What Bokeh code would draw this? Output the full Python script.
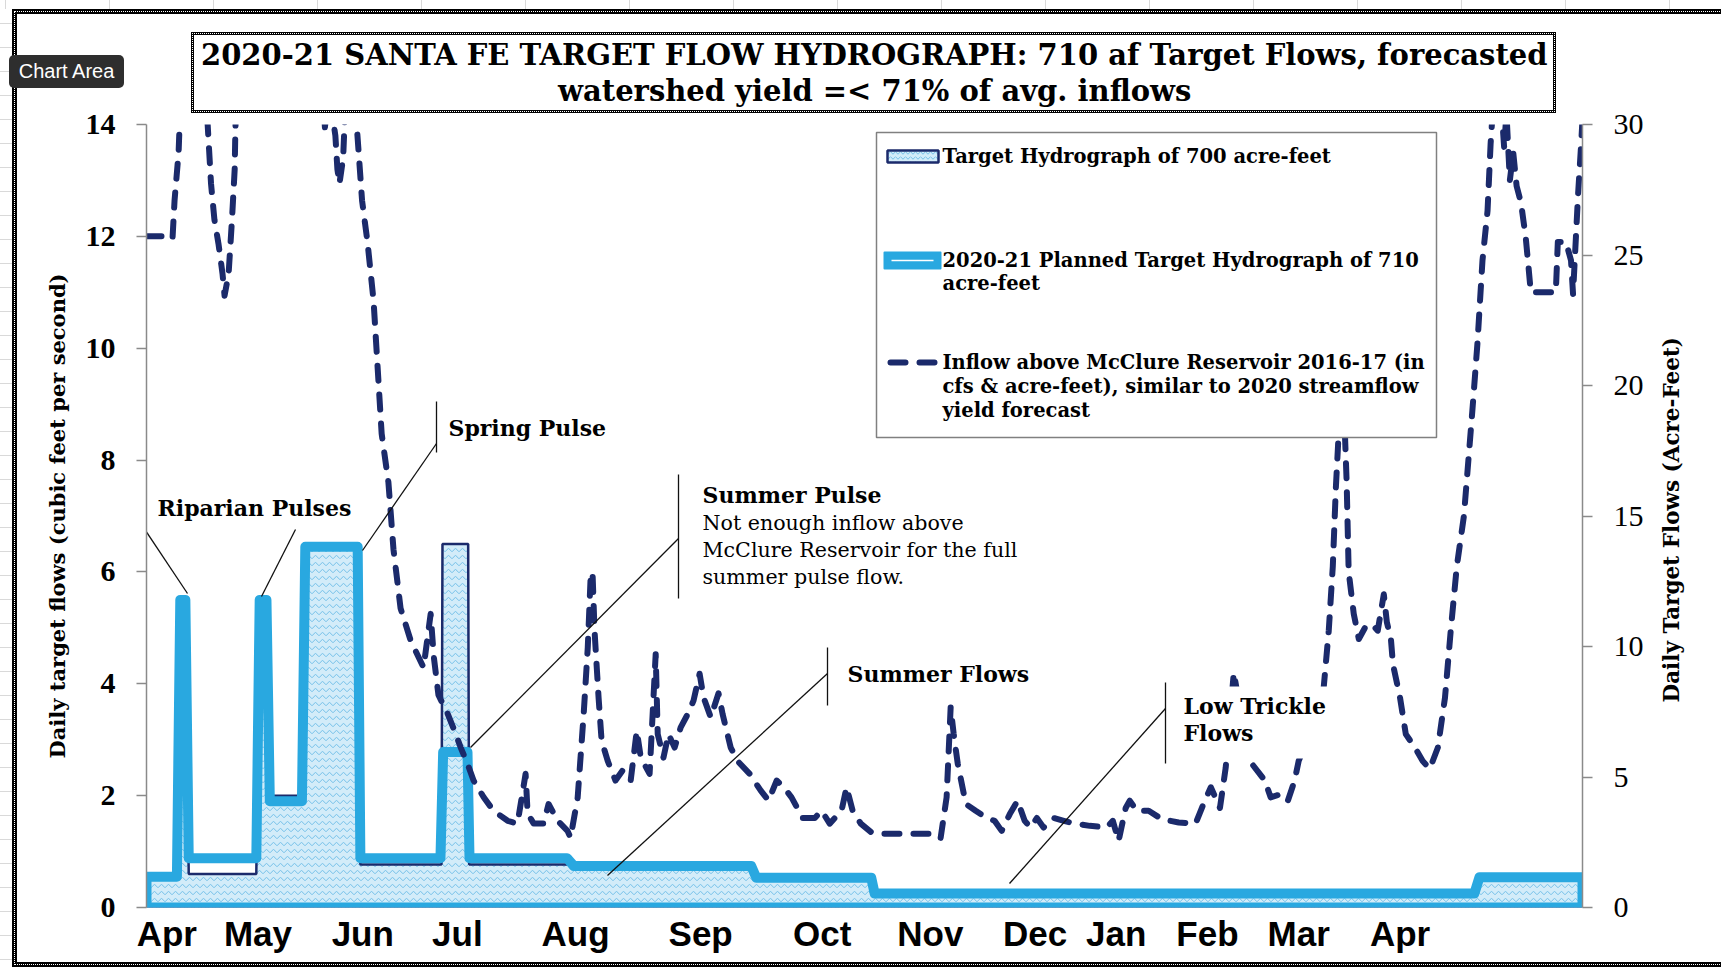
import math
from bokeh.plotting import figure
from bokeh.layouts import column
from bokeh.models import Range1d, LinearAxis, FixedTicker, InlineStyleSheet, Title
from bokeh.core.properties import value
from bokeh.embed import file_html
from bokeh.resources import INLINE

# ---------------- data ----------------
title_lines = ["2020-21 SANTA FE TARGET FLOW HYDROGRAPH: 710 af Target Flows, forecasted",
               "watershed yield =< 71% of avg. inflows"]
month_labels = ["Apr", "May", "Jun", "Jul", "Aug", "Sep", "Oct", "Nov", "Dec", "Jan", "Feb", "Mar", "Apr"]
month_ticks = [6, 33, 64, 92, 127, 164, 200, 232, 263, 287, 314, 341, 371]
cfs_ticks = [0, 2, 4, 6, 8, 10, 12, 14]
af_ticks = [0, 5, 10, 15, 20, 25, 30]

# 2020-21 planned target hydrograph (cfs), day index from Apr 1
planned_day = [0, 9, 10, 11.5, 12.5, 32.5, 33.5, 35.5, 36.5, 46, 47, 62.5, 63.3, 87, 87.8, 95, 95.6,
               124.5, 126.5, 179, 180.5, 214.5, 215.5, 393, 394.5, 425]
planned_cfs = [0.55, 0.55, 5.5, 5.5, 0.88, 0.88, 5.5, 5.5, 1.9, 1.9, 6.45, 6.45, 0.88, 0.88, 2.78, 2.78, 0.88,
               0.88, 0.74, 0.74, 0.53, 0.53, 0.25, 0.25, 0.54, 0.54]

# target hydrograph of 700 acre-feet (cfs)
target_day = [0, 9, 10, 11.5, 12.5, 32.5, 33.5, 35.5, 36.5, 46, 47, 62.5, 63.3, 87.3, 87.6, 95.2, 95.5,
              124.5, 126.5, 179, 180.5, 214.5, 215.5, 393, 394.5, 425]
target_cfs = [0.5, 0.5, 5.5, 5.5, 0.6, 0.6, 5.5, 5.5, 2.0, 2.0, 6.5, 6.5, 0.77, 0.77, 6.5, 6.5, 0.77,
              0.77, 0.72, 0.72, 0.5, 0.5, 0.24, 0.24, 0.5, 0.5]

# inflow above McClure Reservoir 2016-17 (cfs)
inflow_day = [0, 7.0, 7.7, 8.3, 9.5, 11, 13, 15, 17, 18.1, 19.1, 20.1, 21.3, 22.5, 23.1, 24.3, 25.3, 26.1, 26.3,
              28, 32, 36, 40, 44, 48, 51, 52.8, 54, 55.9, 56.5, 57.1, 58.2, 58.6, 60, 61.2, 62.2, 63.8, 65.4,
              67.2, 68.4, 69.6, 71.6, 73.1, 75.2, 78.2, 82, 84.1, 85, 86.4, 89.1, 90.9, 93, 95, 96.8, 99.8,
              102.7, 106.9, 109.8, 112.2, 112.8, 114.6, 117.5, 119, 121.7, 124.6, 125.5, 127.6, 129.4, 130.6,
              131.4, 132, 132.6, 133.8, 134.7, 136.5, 138.8, 140.9, 143.3, 145.1, 146.3, 148.9, 150.7, 151.3,
              153, 154.5, 156.3, 158.1, 160.2, 161.9, 163.7, 164.9, 167, 169.3, 170.5, 172.9, 174.9, 178.5,
              181.8, 184.1, 186.5, 188.6, 190.9, 194.2, 197.8, 199.8, 202.2, 205.7, 207.2, 209, 211.4, 214.6,
              218.2, 225, 231.8, 235, 236.8, 238, 238.9, 240.1, 242.5, 245.4, 248.7, 251, 253.1, 255.5, 257.8,
              259.9, 261.7, 263.5, 265.5, 268.5, 271.5, 274.7, 279.2, 284.2, 286, 287.7, 289.8, 291, 293.1,
              296.6, 300.5, 305.5, 310.5, 313.2, 315, 317.7, 319.4, 321.8, 323.5, 326.5, 331, 332.7, 336,
              337.8, 339.8, 341, 345, 348.4, 349.9, 351.1, 352, 352.6, 353.9, 355.2, 355.8, 357.3, 358.8,
              360.6, 362.6, 364.4, 366.2, 367.1, 368.3, 368.9, 371, 372.7, 375.4, 377.7, 379.8, 382.2, 384.3,
              386, 387.8, 389.9, 392.4, 393.9, 395.4, 396.9, 397.8, 398.5, 400, 401.8, 402.5, 403.5, 404.5,
              405.5, 406.8, 408.2, 409.1, 409.7, 413.6, 417.1, 417.7, 420.1, 421.6, 422.2, 423.7, 424.6, 425]
inflow_cfs = [12.0, 12.0, 11.96, 12.64, 13.5, 16, 19, 17, 15, 14.0, 12.94, 12.3, 11.87, 11.33, 10.94, 11.33, 12.3,
              13.2, 13.9, 17, 21, 24, 22, 25, 20, 16, 13.95, 14.6, 13.8, 13.2, 12.94, 13.4, 14.0, 16, 15, 14.0,
              12.64, 11.9, 10.85, 9.66, 8.47, 7.6, 6.4, 5.35, 4.77, 4.29, 5.25, 4.5, 3.8, 3.47, 3.2, 2.86, 2.57,
              2.27, 1.97, 1.73, 1.55, 1.5, 2.39, 1.68, 1.5, 1.5, 1.85, 1.55, 1.37, 1.25, 1.96, 3.47, 4.65, 5.84,
              6.0, 4.95, 3.75, 2.98, 2.62, 2.27, 2.45, 2.27, 3.16, 2.68, 2.39, 4.53, 3.1, 2.68, 3.1, 2.86, 3.22,
              3.46, 3.7, 4.18, 3.75, 3.4, 3.83, 3.46, 2.86, 2.62, 2.39, 2.09, 1.91, 2.27, 2.15, 1.97, 1.6, 1.6,
              1.73, 1.5, 1.73, 2.15, 1.73, 1.5, 1.34, 1.32, 1.32, 1.32, 1.23, 1.97, 3.58, 3.1, 2.57, 1.85, 1.73,
              1.6, 1.55, 1.37, 1.67, 1.91, 1.55, 1.43, 1.6, 1.43, 1.6, 1.55, 1.5, 1.46, 1.43, 1.55, 1.19, 1.78,
              1.91, 1.73, 1.73, 1.58, 1.52, 1.5, 1.91, 2.15, 1.78, 2.5, 4.2, 3.6, 2.62, 2.27, 1.97, 2.03, 1.91,
              2.27, 2.62, 3.2, 3.93, 4.95, 6.1, 7.5, 8.2, 9.8, 7.6, 6.0, 5.25, 4.8, 5.0, 5.07, 4.95, 5.6, 5.1,
              4.8, 4.35, 3.75, 3.1, 2.86, 2.62, 2.48, 2.86, 3.75, 4.95, 6.1, 7.0, 8.88, 10.08, 11.57, 12.46,
              13.65, 14.3, 15.2, 13.6, 14.2, 13.0, 13.5, 12.9, 12.6, 11.98, 11.4, 11.0, 11.0, 11.0, 11.9, 11.9,
              11.57, 10.97, 12.76, 13.65, 14.1]

# ---------------- layout helpers (page pixels -> data) ----------------
W, H = 1721, 969
FL, FR, FT, FB = 146, 1582, 124, 907
XMAX, YMAX, AFMAX = 425, 14, 30


def dx(px):
    return (px - FL) * XMAX / (FR - FL)


def dy(py):
    return (FB - py) * YMAX / (FB - FT)


NAVY = "#1B2A6B"
LBLUE = "#29A8E0"
SERIF = "DejaVu Serif"

p = figure(width=W, height=H, x_range=Range1d(0, XMAX), y_range=Range1d(0, YMAX),
           output_backend="svg", toolbar_location=None,
           min_border_left=FL, min_border_right=W - FR,
           min_border_top=FT, min_border_bottom=H - FB)
p.extra_y_ranges = {"af": Range1d(0, AFMAX), "px": Range1d(0, FB - FT)}
p.xgrid.visible = False
p.ygrid.visible = False
p.outline_line_color = None
p.background_fill_color = "white"
p.border_fill_color = "white"

# title: two lines, each centred on x=873 of the page
p.title.text = title_lines[0]
p.title.align = "left"
p.title.offset = 54.5
p.title.text_font = SERIF
p.title.text_font_style = "bold"
p.title.text_font_size = "29px"
p.title.text_color = "black"
p.title.standoff = -35
p.add_layout(Title(text=title_lines[1], align="left", offset=411.5, text_font=SERIF,
                   text_font_style="bold", text_font_size="29px", text_color="black", standoff=34),
             "above")

# left axis
yl = p.yaxis[0]
yl.ticker = FixedTicker(ticks=cfs_ticks)
yl.axis_line_color = "#8a8a8a"
yl.axis_line_width = 1.5
yl.major_tick_line_color = "#8a8a8a"
yl.major_tick_line_width = 1.5
yl.major_tick_out = 10
yl.major_tick_in = 0
yl.minor_tick_line_color = None
yl.major_label_text_font = "Liberation Serif"
yl.major_label_text_font_style = "bold"
yl.major_label_text_font_size = "30px"
yl.major_label_text_color = "black"
yl.major_label_standoff = 21
yl.axis_label = "Daily target flows (cubic feet per second)"
yl.axis_label_text_font = SERIF
yl.axis_label_text_font_style = "bold"
yl.axis_label_text_font_size = "21px"
yl.axis_label_text_color = "black"
yl.axis_label_standoff = 13

# right axis (acre-feet)
yr = LinearAxis(y_range_name="af", ticker=FixedTicker(ticks=af_ticks))
yr.axis_line_color = "#8a8a8a"
yr.axis_line_width = 1.5
yr.major_tick_line_color = "#8a8a8a"
yr.major_tick_line_width = 1.5
yr.major_tick_out = 10
yr.major_tick_in = 0
yr.minor_tick_line_color = None
yr.major_label_text_font = "Liberation Serif"
yr.major_label_text_font_style = "normal"
yr.major_label_text_font_size = "30px"
yr.major_label_text_color = "black"
yr.major_label_standoff = 21
p.add_layout(yr, "right")

# right-axis title, reading bottom-to-top (rotated label on an outer, line-less axis)
lbl_start = FB - 702
yr_title = LinearAxis(y_range_name="px", ticker=FixedTicker(ticks=[lbl_start]),
                      major_label_overrides={lbl_start: "Daily Target Flows (Acre-Feet)"},
                      major_label_orientation=math.pi / 2)
yr_title.axis_line_color = None
yr_title.major_tick_line_color = None
yr_title.minor_tick_line_color = None
yr_title.major_tick_out = 0
yr_title.major_tick_in = 0
yr_title.major_label_text_font = SERIF
yr_title.major_label_text_font_style = "bold"
yr_title.major_label_text_font_size = "21.5px"
yr_title.major_label_text_color = "black"
yr_title.major_label_standoff = 25
p.add_layout(yr_title, "right")

# bottom axis
xa = p.xaxis[0]
xa.ticker = FixedTicker(ticks=month_ticks)
xa.major_label_overrides = {t: l for t, l in zip(month_ticks, month_labels)}
xa.axis_line_color = None
xa.major_tick_line_color = None
xa.minor_tick_line_color = None
xa.major_label_text_font = "Liberation Sans"
xa.major_label_text_font_style = "bold"
xa.major_label_text_font_size = "35px"
xa.major_label_text_color = "black"
xa.major_label_standoff = 0

# ---------------- series ----------------
p.patch(target_day + [XMAX, 0], target_cfs + [0, 0], fill_color="#D3ECF9",
        hatch_pattern="horizontal_wave", hatch_color="#74C0E8", hatch_scale=7, hatch_weight=1,
        line_color=NAVY, line_width=2.5)
p.patch(planned_day + [XMAX, 0], planned_cfs + [0, 0], fill_color=None,
        line_color=LBLUE, line_width=10, line_join="round")
p.line(inflow_day, inflow_cfs, line_color=NAVY, line_width=6, line_dash="15 14", line_cap="round",
       line_join="round")

# white box behind "Low Trickle Flows"
p.quad(left=dx(1172), right=dx(1328), top=dy(686), bottom=dy(758), fill_color="white", line_color=None)

# ---------------- legend ----------------
p.quad(left=dx(876), right=dx(1436), top=dy(132), bottom=dy(437), fill_color="white",
       line_color="#808080", line_width=1.5)
p.quad(left=dx(887), right=dx(938), top=dy(150), bottom=dy(162), fill_color="#D3ECF9",
       hatch_pattern="horizontal_wave", hatch_color="#74C0E8", hatch_scale=5, hatch_weight=1,
       line_color=NAVY, line_width=2.5)
p.quad(left=dx(884), right=dx(940), top=dy(252), bottom=dy(268), fill_color=LBLUE,
       line_color=LBLUE, line_width=2, line_join="round")
p.line([dx(891), dx(933)], [dy(260), dy(260)], line_color="white", line_width=1.5)
p.line([dx(890), dx(936)], [dy(362), dy(362)], line_color=NAVY, line_width=6, line_dash="15 14",
       line_cap="round")

p.text(x=[dx(942)] * 6, y=[dy(156), dy(260), dy(283), dy(362), dy(386), dy(410)],
       text=["Target Hydrograph of 700 acre-feet",
             "2020-21 Planned Target Hydrograph of 710",
             "acre-feet",
             "Inflow above McClure Reservoir 2016-17 (in",
             "cfs & acre-feet), similar to 2020 streamflow",
             "yield forecast"],
       text_font=value(SERIF), text_font_style="bold", text_font_size="19.5px",
       text_color="black", text_align="left", text_baseline="middle")

# ---------------- callouts ----------------
bars = [(143, 485, 143, 532), (436, 401, 436, 452), (678, 474, 678, 598), (827, 647, 827, 705),
        (1165, 682, 1165, 763)]
leaders = [(143, 527, 187, 593), (295, 529, 261, 596), (436, 443, 362, 550), (678, 538, 470, 747),
           (827, 673, 607, 875), (1165, 708, 1009, 883)]
segs = bars + leaders
p.segment(x0=[dx(s[0]) for s in segs], y0=[dy(s[1]) for s in segs],
          x1=[dx(s[2]) for s in segs], y1=[dy(s[3]) for s in segs],
          line_color="#111111", line_width=1.3)

p.text(x=[dx(157), dx(448), dx(702), dx(847), dx(1183), dx(1183)],
       y=[dy(507), dy(427), dy(494), dy(673), dy(705), dy(732)],
       text=["Riparian Pulses", "Spring Pulse", "Summer Pulse", "Summer Flows", "Low Trickle", "Flows"],
       text_font=value(SERIF), text_font_style="bold", text_font_size="22px",
       text_color="black", text_align="left", text_baseline="middle")
p.text(x=[dx(702)] * 3, y=[dy(522), dy(549), dy(576)],
       text=["Not enough inflow above", "McClure Reservoir  for the full", "summer pulse flow."],
       text_font=value(SERIF), text_font_style="normal", text_font_size="20.6px",
       text_color="black", text_align="left", text_baseline="middle")

# ---------------- chart-area selection frame, title box, tooltip, sheet grid (page decoration) ----------------
fig_css = """
:host::after {
  content: "";
  position: absolute;
  left: 12px; top: 9px;
  width: 1730px; height: 958px;
  box-sizing: border-box;
  border: 5px solid black;
  outline: 1px dotted white;
  outline-offset: -3px;
  z-index: 10;
  pointer-events: none;
}
:host::before {
  content: "Chart Area";
  position: absolute;
  left: 9px; top: 55px;
  width: 115px; height: 33px;
  background: #2E2E2E;
  color: white;
  border-radius: 5px;
  font-family: 'Liberation Sans', sans-serif;
  font-size: 20px;
  line-height: 33px;
  text-align: center;
  z-index: 20;
}
"""
p.stylesheets = [InlineStyleSheet(css=fig_css)]

page = column(p)
page.stylesheets = [InlineStyleSheet(css="""
:host::after {
  content: "";
  position: absolute;
  left: 191px; top: 32px;
  width: 1365px; height: 81px;
  box-sizing: border-box;
  border: 3px solid black;
  outline: 1px dotted white;
  outline-offset: -2px;
  z-index: 10;
  pointer-events: none;
}
:host::before {
  content: "";
  position: absolute;
  left: 0px; top: 0px;
  width: 1721px; height: 969px;
  background-image:
    repeating-linear-gradient(90deg, transparent 0px, transparent 5px, #d9d9d9 5px, #d9d9d9 6px, transparent 6px, transparent 104px),
    repeating-linear-gradient(180deg, transparent 0px, transparent 23px, #d9d9d9 23px, #d9d9d9 24px, transparent 24px, transparent 24px);
  background-size: 1721px 9px, 12px 969px;
  background-position: 0px 0px, 0px 0px;
  background-repeat: no-repeat, no-repeat;
  z-index: 5;
  pointer-events: none;
}
""")]

open("out.html", "w").write(file_html(page, INLINE))
